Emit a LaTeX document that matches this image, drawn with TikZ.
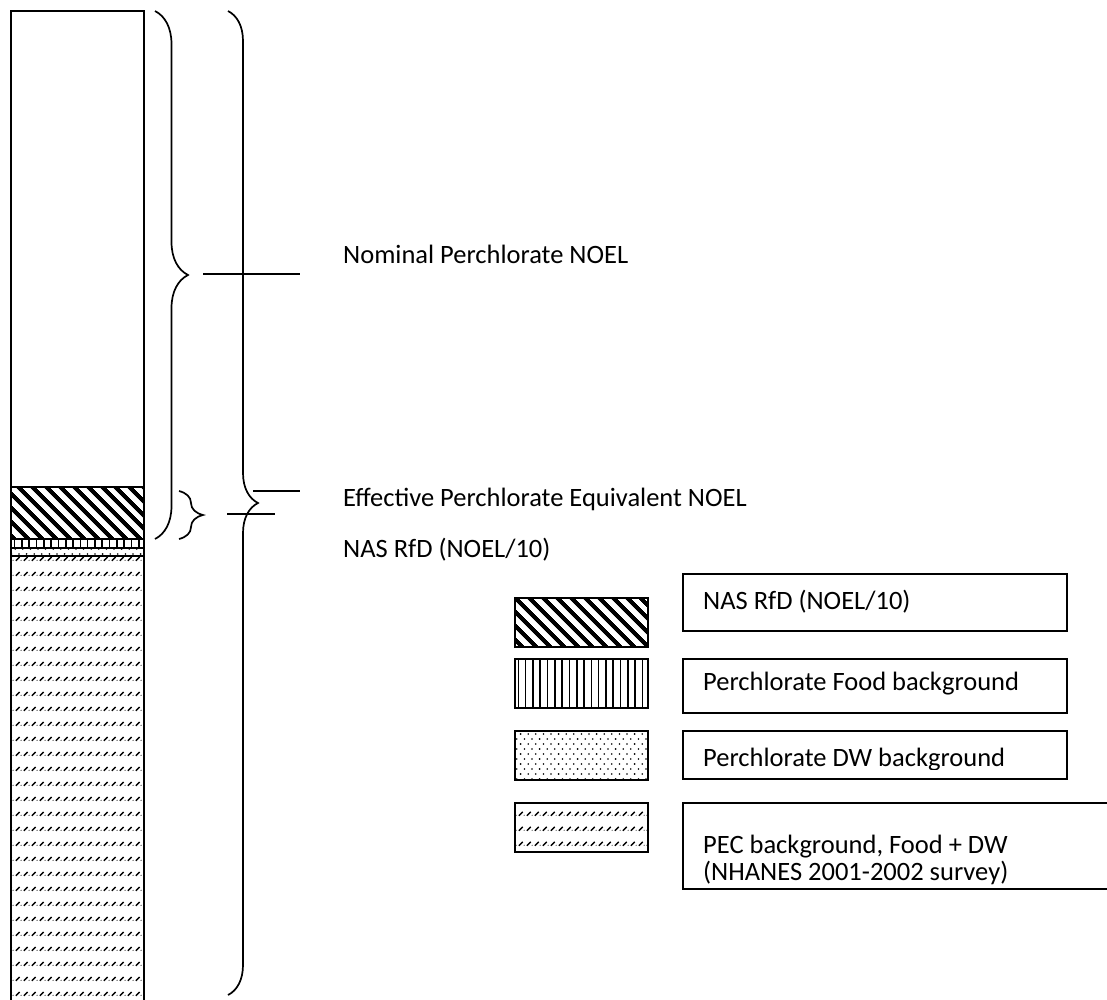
\documentclass[tikz,border=0pt]{standalone}
\usepackage{fontspec}
\setmainfont{Carlito}
\usetikzlibrary{patterns, patterns.meta, decorations.pathreplacing, calc}

% staggered dots for the drinking water share
\pgfdeclarepatternformonly{stagdots}{\pgfqpoint{-1pt}{-1pt}}{\pgfqpoint{8.6pt}{11pt}}{\pgfqpoint{7.6pt}{10pt}}{%
  \pgfpathcircle{\pgfqpoint{0pt}{0pt}}{0.9pt}%
  \pgfpathcircle{\pgfqpoint{3.8pt}{5pt}}{0.9pt}%
  \pgfusepath{fill}}
% rows of short slashes for the PEC background
\pgfdeclarepatternformonly{slashrows}{\pgfqpoint{0pt}{0pt}}{\pgfqpoint{7.5pt}{15pt}}{\pgfqpoint{7.5pt}{15pt}}{%
  \pgfsetlinewidth{1.5pt}%
  \pgfpathmoveto{\pgfqpoint{1pt}{4.5pt}}%
  \pgfpathlineto{\pgfqpoint{5pt}{8.5pt}}%
  \pgfusepath{stroke}%
  \pgfpathcircle{\pgfqpoint{6.5pt}{5pt}}{0.6pt}%
  \pgfusepath{fill}}

\tikzset{
  seg/.style={draw, line width=2pt, minimum width=133pt, inner sep=0pt, outer sep=0pt, anchor=north west},
  swatch/.style={seg, minimum height=49pt},
  legbox/.style={draw, line width=1.8pt, minimum width=384pt, inner sep=0pt, outer sep=0pt, anchor=north west},
  rfdfill/.style={pattern={Lines[angle=-45, distance=10.5pt, line width=4.5pt]}},
  foodfill/.style={pattern={Lines[angle=90, distance=7.3pt, line width=1.6pt]}},
  dwfill/.style={pattern=stagdots},
  pecfill/.style={pattern=slashrows},
  curly/.style={decorate, decoration={brace, amplitude=#1}, line width=1.7pt},
  lead/.style={line width=1.6pt},
  lbl/.style={anchor=base west, inner sep=0pt, font=\fontsize{26.5}{27}\selectfont},
  legtxt/.style={anchor=base west, inner sep=0pt, font=\fontsize{26.5}{27}\selectfont}
}

\begin{document}
\begin{tikzpicture}[x=1pt, y=-1pt]
  \useasboundingbox (0,0) rectangle (1107,999);

  % stacked intake bar
  \node[seg, minimum height=476pt] (blank) at (11,11) {};
  \node[seg, minimum height=52pt, rfdfill] (rfd) at (blank.south west) {};
  \node[seg, minimum height=9pt, foodfill] (food) at (rfd.south west) {};
  \node[seg, minimum height=8pt, dwfill] (dw) at (food.south west) {};
  \node[seg, minimum height=460pt, pecfill] (pec) at (dw.south west) {};

  % braces
  \draw[curly=33pt] ($(blank.north east)+(11,0)$) -- ($(rfd.south east)+(11,0)$);
  \draw[curly=30pt] (228,11) -- (228,995);
  \draw[curly=24pt] (179,491) -- ($(rfd.south east)+(35,0)$);

  \coordinate (nomA) at (203,274);  \coordinate (nomB) at (300,274);
  \coordinate (effA) at (253,491);  \coordinate (effB) at (300,491);
  \coordinate (nasA) at (227,514);  \coordinate (nasB) at (275,514);
  \draw[lead] (nomA) -- (nomB);
  \draw[lead] (effA) -- (effB);
  \draw[lead] (nasA) -- (nasB);

  \node[lbl] (nominal) at (343,263) {Nominal Perchlorate NOEL};
  \node[lbl] (effective) at (343,506) {Effective Perchlorate Equivalent NOEL};
  \node[lbl] (nasrfd) at (343,557) {NAS RfD (NOEL/10)};

  % key
  \node[swatch, rfdfill] (keyrfd) at (515,598) {};
  \node[swatch, foodfill] (keyfood) at (515,659) {};
  \node[swatch, dwfill] (keydw) at (515,731) {};
  \node[swatch, pecfill] (keypec) at (515,803) {};

  \node[legbox, minimum height=57pt] (boxrfd) at (683,574) {};
  \node[legbox, minimum height=54pt] (boxfood) at (683,659) {};
  \node[legbox, minimum height=48pt] (boxdw) at (683,731) {};
  \node[legbox, minimum width=450pt, minimum height=86pt] (boxpec) at (683,803) {};

  \node[legtxt] (txtrfd) at ($(boxrfd.north west)+(20,35)$) {NAS RfD (NOEL/10)};
  \node[legtxt] (txtfood) at ($(boxfood.north west)+(20,31)$) {Perchlorate Food background};
  \begin{scope}
    \clip (boxdw.north west) rectangle ($(boxdw.north east)+(0,38)$);
    \node[legtxt] (txtdw) at ($(boxdw.north west)+(20,35)$) {Perchlorate DW background};
  \end{scope}
  \node[legtxt] (txtpec) at ($(boxpec.north west)+(20,50)$) {PEC background, Food + DW};
  \node[legtxt] (txtsurvey) at ($(boxpec.north west)+(20,77)$) {(NHANES 2001-2002 survey)};
\end{tikzpicture}
\end{document}
